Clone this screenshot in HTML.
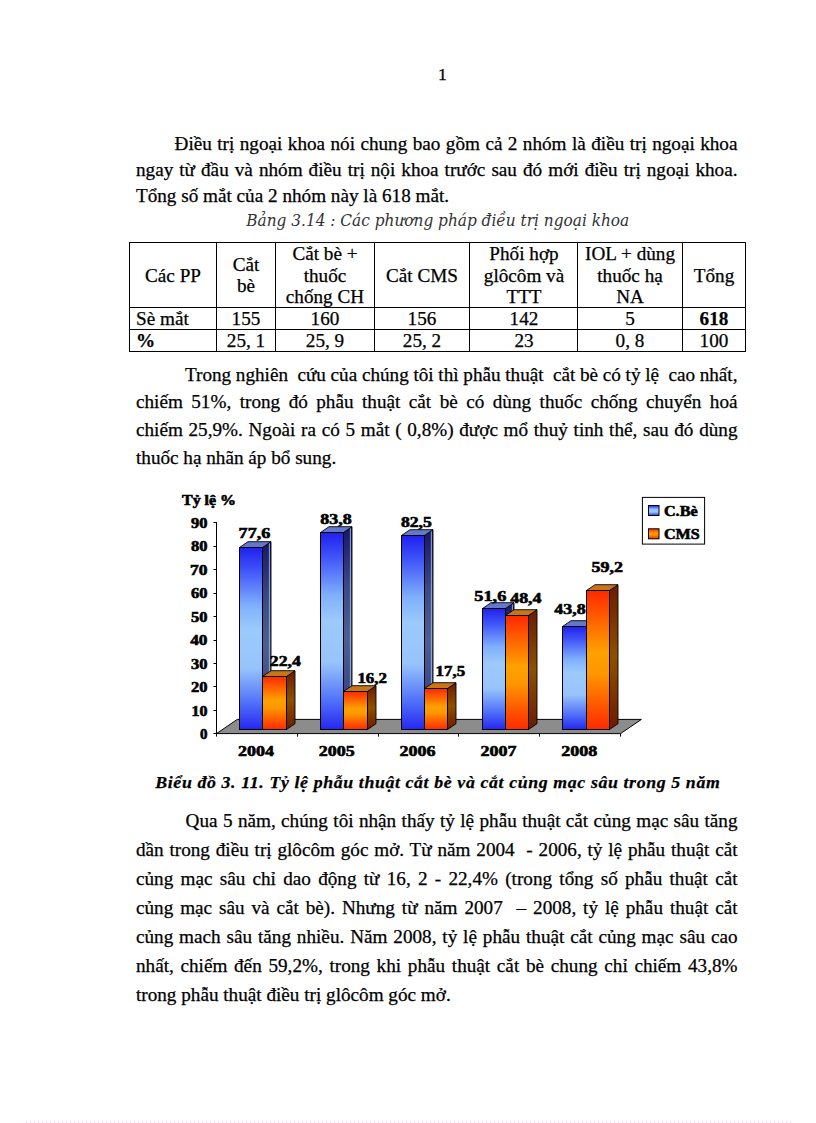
<!DOCTYPE html>
<html><head><meta charset="utf-8"><title>page</title>
<style>
html,body{margin:0;padding:0;background:#fff;}
body{width:816px;height:1123px;overflow:hidden;position:relative;}
.pg{position:absolute;left:0;top:0;width:794px;height:1123px;transform:scaleX(1.027708);transform-origin:0 0;}
.ln{position:absolute;white-space:nowrap;-webkit-text-stroke:0.25px #000;font-family:"Liberation Serif","Times New Roman",serif;font-size:18.6667px;line-height:20px;height:20px;color:#000;}
.ln.j{text-align:justify;text-align-last:justify;white-space:normal;word-spacing:-2px;}
.cap{font-family:"DejaVu Serif",serif;font-stretch:condensed;font-size:16.6px;font-style:italic;-webkit-text-stroke:0;color:#333;}
.bcap{font-style:italic;font-weight:bold;font-size:17.33px;letter-spacing:0.6px;}
.tb{position:absolute;left:0;top:0;width:816px;height:1123px;}
.vl{position:absolute;width:1px;background:#000;}
.hl{position:absolute;height:1px;background:#000;}
.tc,.tl{position:absolute;white-space:nowrap;-webkit-text-stroke:0.25px #000;font-family:"Liberation Serif","Times New Roman",serif;font-size:18.6667px;line-height:20px;height:20px;color:#000;transform:scaleX(1.027708);transform-origin:center top;}
.tc{width:120px;text-align:center;}
.tl{transform-origin:left top;}
svg{position:absolute;left:0;top:0;}
svg text{font-family:"Liberation Serif","Times New Roman",serif;font-weight:bold;fill:#000;stroke:#000;stroke-width:0.55px;}
</style></head><body>
<div class="pg">
<div class="ln " style="left:426.09px;top:64.70px;font-size:17.33px;">1</div>
<div class="ln j " style="left:169.89px;top:133.70px;width:547.72px;">Điều trị ngoại khoa nói chung bao gồm cả 2 nhóm là điều trị ngoại khoa</div>
<div class="ln j " style="left:132.30px;top:159.50px;width:585.32px;">ngay từ đầu và nhóm điều trị nội khoa trước sau đó mới điều trị ngoại khoa.</div>
<div class="ln " style="left:132.30px;top:185.50px;">Tổng số mắt của 2 nhóm này là 618 mắt.</div>
<div class="ln cap" style="left:239.66px;top:211.00px;">Bảng 3.14 : Các phương pháp điều trị ngoại khoa</div>
<div class="ln j " style="left:180.01px;top:364.50px;width:537.60px;">Trong nghiên&nbsp; cứu của chúng tôi thì phẫu thuật&nbsp; cắt bè có tỷ lệ&nbsp; cao nhất,</div>
<div class="ln j " style="left:132.30px;top:391.50px;width:585.32px;">chiếm 51%, trong đó phẫu thuật cắt bè có dùng thuốc chống chuyển hoá</div>
<div class="ln j " style="left:132.30px;top:420.00px;width:585.32px;">chiếm 25,9%. Ngoài ra có 5 mắt ( 0,8%) được mổ thuỷ tinh thể, sau đó dùng</div>
<div class="ln " style="left:132.30px;top:448.00px;">thuốc hạ nhãn áp bổ sung.</div>
<div class="ln bcap" style="left:151.11px;top:772.70px;">Biểu đồ 3. 11. Tỷ lệ phẫu thuật cắt bè và cắt củng mạc sâu trong 5 năm</div>
<div class="ln j " style="left:180.60px;top:811.00px;width:537.02px;">Qua 5 năm, chúng tôi nhận thấy tỷ lệ phẫu thuật cắt củng mạc sâu tăng</div>
<div class="ln j " style="left:132.30px;top:839.50px;width:585.32px;">dần trong điều trị glôcôm góc mở. Từ năm 2004&nbsp; - 2006, tỷ lệ phẫu thuật cắt</div>
<div class="ln j " style="left:132.30px;top:869.00px;width:585.32px;">củng mạc sâu chỉ dao động từ 16, 2 - 22,4% (trong tổng số phẫu thuật cắt</div>
<div class="ln j " style="left:132.30px;top:897.60px;width:585.32px;">củng mạc sâu và cắt bè). Nhưng từ năm 2007&nbsp; – 2008, tỷ lệ phẫu thuật cắt</div>
<div class="ln j " style="left:132.30px;top:926.50px;width:585.32px;">củng mach sâu tăng nhiều. Năm 2008, tỷ lệ phẫu thuật cắt củng mạc sâu cao</div>
<div class="ln j " style="left:132.30px;top:956.00px;width:585.32px;">nhất, chiếm đến 59,2%, trong khi phẫu thuật cắt bè chung chỉ chiếm 43,8%</div>
<div class="ln " style="left:132.30px;top:985.00px;">trong phẫu thuật điều trị glôcôm góc mở.</div>
</div>
<div class="tb">
<div class="vl" style="left:129px;top:242px;height:110px"></div>
<div class="vl" style="left:216px;top:242px;height:110px"></div>
<div class="vl" style="left:275px;top:242px;height:110px"></div>
<div class="vl" style="left:374px;top:242px;height:110px"></div>
<div class="vl" style="left:469px;top:242px;height:110px"></div>
<div class="vl" style="left:577px;top:242px;height:110px"></div>
<div class="vl" style="left:682px;top:242px;height:110px"></div>
<div class="vl" style="left:745px;top:242px;height:110px"></div>
<div class="hl" style="left:129px;top:242px;width:617px"></div>
<div class="hl" style="left:129px;top:307px;width:617px"></div>
<div class="hl" style="left:129px;top:329px;width:617px"></div>
<div class="hl" style="left:129px;top:351px;width:617px"></div>
<div class="tc" style="left:112.75px;top:266.00px;">Các PP</div>
<div class="tc" style="left:185.75px;top:255.00px;">Cắt</div>
<div class="tc" style="left:185.75px;top:276.00px;">bè</div>
<div class="tc" style="left:264.50px;top:243.50px;">Cắt bè +</div>
<div class="tc" style="left:264.50px;top:266.00px;">thuốc</div>
<div class="tc" style="left:264.50px;top:287.00px;">chống CH</div>
<div class="tc" style="left:361.80px;top:266.00px;">Cắt CMS</div>
<div class="tc" style="left:463.60px;top:243.50px;">Phối hợp</div>
<div class="tc" style="left:463.60px;top:266.00px;">glôcôm và</div>
<div class="tc" style="left:463.60px;top:287.00px;">TTT</div>
<div class="tc" style="left:570.05px;top:243.50px;">IOL + dùng</div>
<div class="tc" style="left:570.05px;top:266.00px;">thuốc hạ</div>
<div class="tc" style="left:570.05px;top:287.00px;">NA</div>
<div class="tc" style="left:653.75px;top:266.00px;">Tổng</div>
<div class="tl" style="left:136.00px;top:308.50px;">Sè mắt</div>
<div class="tc" style="left:185.75px;top:308.50px;">155</div>
<div class="tc" style="left:264.50px;top:308.50px;">160</div>
<div class="tc" style="left:361.80px;top:308.50px;">156</div>
<div class="tc" style="left:463.60px;top:308.50px;">142</div>
<div class="tc" style="left:570.05px;top:308.50px;">5</div>
<div class="tc" style="left:653.75px;top:308.50px;font-weight:bold;">618</div>
<div class="tl" style="left:136.00px;top:331.00px;font-weight:bold;">%</div>
<div class="tc" style="left:185.75px;top:331.00px;">25, 1</div>
<div class="tc" style="left:264.50px;top:331.00px;">25, 9</div>
<div class="tc" style="left:361.80px;top:331.00px;">25, 2</div>
<div class="tc" style="left:463.60px;top:331.00px;">23</div>
<div class="tc" style="left:570.05px;top:331.00px;">0, 8</div>
<div class="tc" style="left:653.75px;top:331.00px;">100</div>
</div>
<div style="position:absolute;left:26px;top:1122px;width:766px;height:1px;background:repeating-linear-gradient(90deg,#f4c4f4 0,#f4c4f4 1px,transparent 1px,transparent 4px);"></div>
<svg width="816" height="1123" viewBox="0 0 816 1123">
<polygon points="216.5,733.6 620.6,733.6 641.4,719.4 237.3,719.4" fill="#8c8c8c" stroke="#000" stroke-width="1"/>
<line x1="216.5" y1="735.1" x2="216.5" y2="522.2" stroke="#000" stroke-width="1"/>
<line x1="213.5" y1="733.5" x2="216.5" y2="733.5" stroke="#000" stroke-width="1"/>
<line x1="213.5" y1="710.5" x2="216.5" y2="710.5" stroke="#000" stroke-width="1"/>
<line x1="213.5" y1="686.5" x2="216.5" y2="686.5" stroke="#000" stroke-width="1"/>
<line x1="213.5" y1="663.5" x2="216.5" y2="663.5" stroke="#000" stroke-width="1"/>
<line x1="213.5" y1="640.5" x2="216.5" y2="640.5" stroke="#000" stroke-width="1"/>
<line x1="213.5" y1="616.5" x2="216.5" y2="616.5" stroke="#000" stroke-width="1"/>
<line x1="213.5" y1="593.5" x2="216.5" y2="593.5" stroke="#000" stroke-width="1"/>
<line x1="213.5" y1="569.5" x2="216.5" y2="569.5" stroke="#000" stroke-width="1"/>
<line x1="213.5" y1="546.5" x2="216.5" y2="546.5" stroke="#000" stroke-width="1"/>
<line x1="213.5" y1="522.5" x2="216.5" y2="522.5" stroke="#000" stroke-width="1"/>
<line x1="216.5" y1="733.6" x2="216.5" y2="736.6" stroke="#000" stroke-width="1"/>
<line x1="297.5" y1="733.6" x2="297.5" y2="736.6" stroke="#000" stroke-width="1"/>
<line x1="378.5" y1="733.6" x2="378.5" y2="736.6" stroke="#000" stroke-width="1"/>
<line x1="458.5" y1="733.6" x2="458.5" y2="736.6" stroke="#000" stroke-width="1"/>
<line x1="539.5" y1="733.6" x2="539.5" y2="736.6" stroke="#000" stroke-width="1"/>
<line x1="620.5" y1="733.6" x2="620.5" y2="736.6" stroke="#000" stroke-width="1"/>
<defs>
<linearGradient id="gb" x1="0" y1="0" x2="0" y2="1">
<stop offset="0" stop-color="#2020ee"/><stop offset="0.12" stop-color="#3e52f8"/><stop offset="0.32" stop-color="#80b0fc"/><stop offset="0.45" stop-color="#9ccafc"/><stop offset="0.66" stop-color="#98c4fc"/><stop offset="0.86" stop-color="#4e6ef8"/><stop offset="1" stop-color="#2626f0"/></linearGradient>
<linearGradient id="go" x1="0" y1="0" x2="0" y2="1">
<stop offset="0" stop-color="#ff2800"/><stop offset="0.25" stop-color="#ff6c00"/><stop offset="0.45" stop-color="#ffa200"/><stop offset="0.6" stop-color="#ff9600"/><stop offset="0.85" stop-color="#ff5000"/><stop offset="1" stop-color="#ff2a00"/></linearGradient>
<linearGradient id="gbs" x1="0" y1="0" x2="0" y2="1">
<stop offset="0" stop-color="#161668"/><stop offset="0.3" stop-color="#3a4a88"/><stop offset="0.55" stop-color="#4e5e94"/><stop offset="0.8" stop-color="#3a4888"/><stop offset="1" stop-color="#1a1a70"/></linearGradient>
<linearGradient id="gos" x1="0" y1="0" x2="0" y2="1">
<stop offset="0" stop-color="#6a1c00"/><stop offset="0.5" stop-color="#8c5000"/><stop offset="1" stop-color="#6c1a00"/></linearGradient>
</defs>
<polygon points="262.5,547.5 271.0,541.7 271.0,723.7 262.5,729.5" fill="url(#gbs)" stroke="#000" stroke-width="0.9" stroke-linejoin="round"/>
<line x1="269.4" y1="543.2" x2="269.4" y2="723.2" stroke="#a4b4d4" stroke-width="0.9"/>
<polygon points="239.5,547.5 248.0,541.7 271.0,541.7 262.5,547.5" fill="#6278cc" stroke="#000" stroke-width="0.9" stroke-linejoin="round"/>
<rect x="239.5" y="547.5" width="23.0" height="182.0" fill="url(#gb)" stroke="#000" stroke-width="1"/>
<polygon points="286.5,676.5 295.0,670.7 295.0,723.7 286.5,729.5" fill="url(#gos)" stroke="#000" stroke-width="0.9" stroke-linejoin="round"/>
<polygon points="262.5,676.5 271.0,670.7 295.0,670.7 286.5,676.5" fill="#c87418" stroke="#000" stroke-width="0.9" stroke-linejoin="round"/>
<rect x="262.5" y="676.5" width="24.0" height="53.0" fill="url(#go)" stroke="#000" stroke-width="1"/>
<polygon points="343.5,532.5 352.0,526.7 352.0,723.7 343.5,729.5" fill="url(#gbs)" stroke="#000" stroke-width="0.9" stroke-linejoin="round"/>
<line x1="350.4" y1="528.2" x2="350.4" y2="723.2" stroke="#a4b4d4" stroke-width="0.9"/>
<polygon points="320.5,532.5 329.0,526.7 352.0,526.7 343.5,532.5" fill="#6278cc" stroke="#000" stroke-width="0.9" stroke-linejoin="round"/>
<rect x="320.5" y="532.5" width="23.0" height="197.0" fill="url(#gb)" stroke="#000" stroke-width="1"/>
<polygon points="367.5,691.5 376.0,685.7 376.0,723.7 367.5,729.5" fill="url(#gos)" stroke="#000" stroke-width="0.9" stroke-linejoin="round"/>
<polygon points="343.5,691.5 352.0,685.7 376.0,685.7 367.5,691.5" fill="#c87418" stroke="#000" stroke-width="0.9" stroke-linejoin="round"/>
<rect x="343.5" y="691.5" width="24.0" height="38.0" fill="url(#go)" stroke="#000" stroke-width="1"/>
<polygon points="424.5,535.5 433.0,529.7 433.0,723.7 424.5,729.5" fill="url(#gbs)" stroke="#000" stroke-width="0.9" stroke-linejoin="round"/>
<line x1="431.4" y1="531.2" x2="431.4" y2="723.2" stroke="#a4b4d4" stroke-width="0.9"/>
<polygon points="401.5,535.5 410.0,529.7 433.0,529.7 424.5,535.5" fill="#6278cc" stroke="#000" stroke-width="0.9" stroke-linejoin="round"/>
<rect x="401.5" y="535.5" width="23.0" height="194.0" fill="url(#gb)" stroke="#000" stroke-width="1"/>
<polygon points="447.5,688.5 456.0,682.7 456.0,723.7 447.5,729.5" fill="url(#gos)" stroke="#000" stroke-width="0.9" stroke-linejoin="round"/>
<polygon points="424.5,688.5 433.0,682.7 456.0,682.7 447.5,688.5" fill="#c87418" stroke="#000" stroke-width="0.9" stroke-linejoin="round"/>
<rect x="424.5" y="688.5" width="23.0" height="41.0" fill="url(#go)" stroke="#000" stroke-width="1"/>
<polygon points="505.5,608.5 514.0,602.7 514.0,723.7 505.5,729.5" fill="url(#gbs)" stroke="#000" stroke-width="0.9" stroke-linejoin="round"/>
<line x1="512.4" y1="604.2" x2="512.4" y2="723.2" stroke="#a4b4d4" stroke-width="0.9"/>
<polygon points="482.5,608.5 491.0,602.7 514.0,602.7 505.5,608.5" fill="#6278cc" stroke="#000" stroke-width="0.9" stroke-linejoin="round"/>
<rect x="482.5" y="608.5" width="23.0" height="121.0" fill="url(#gb)" stroke="#000" stroke-width="1"/>
<polygon points="528.5,615.5 537.0,609.7 537.0,723.7 528.5,729.5" fill="url(#gos)" stroke="#000" stroke-width="0.9" stroke-linejoin="round"/>
<polygon points="505.5,615.5 514.0,609.7 537.0,609.7 528.5,615.5" fill="#c87418" stroke="#000" stroke-width="0.9" stroke-linejoin="round"/>
<rect x="505.5" y="615.5" width="23.0" height="114.0" fill="url(#go)" stroke="#000" stroke-width="1"/>
<polygon points="586.5,626.5 595.0,620.7 595.0,723.7 586.5,729.5" fill="url(#gbs)" stroke="#000" stroke-width="0.9" stroke-linejoin="round"/>
<line x1="593.4" y1="622.2" x2="593.4" y2="723.2" stroke="#a4b4d4" stroke-width="0.9"/>
<polygon points="562.5,626.5 571.0,620.7 595.0,620.7 586.5,626.5" fill="#6278cc" stroke="#000" stroke-width="0.9" stroke-linejoin="round"/>
<rect x="562.5" y="626.5" width="24.0" height="103.0" fill="url(#gb)" stroke="#000" stroke-width="1"/>
<polygon points="609.5,590.5 618.0,584.7 618.0,723.7 609.5,729.5" fill="url(#gos)" stroke="#000" stroke-width="0.9" stroke-linejoin="round"/>
<polygon points="586.5,590.5 595.0,584.7 618.0,584.7 609.5,590.5" fill="#c87418" stroke="#000" stroke-width="0.9" stroke-linejoin="round"/>
<rect x="586.5" y="590.5" width="23.0" height="139.0" fill="url(#go)" stroke="#000" stroke-width="1"/>
<text x="182.0" y="504.6" font-size="13.6" textLength="54.0" lengthAdjust="spacingAndGlyphs">Tỷ lệ %</text>
<text x="200.0" y="739.2" font-size="13.6" textLength="7.5" lengthAdjust="spacingAndGlyphs">0</text>
<text x="191.5" y="715.7" font-size="13.6" textLength="16.0" lengthAdjust="spacingAndGlyphs">10</text>
<text x="191.0" y="692.2" font-size="13.6" textLength="16.5" lengthAdjust="spacingAndGlyphs">20</text>
<text x="191.0" y="668.7" font-size="13.6" textLength="16.5" lengthAdjust="spacingAndGlyphs">30</text>
<text x="190.2" y="645.2" font-size="13.6" textLength="17.3" lengthAdjust="spacingAndGlyphs">40</text>
<text x="191.0" y="621.8" font-size="13.6" textLength="16.5" lengthAdjust="spacingAndGlyphs">50</text>
<text x="191.0" y="598.3" font-size="13.6" textLength="16.5" lengthAdjust="spacingAndGlyphs">60</text>
<text x="190.0" y="574.8" font-size="13.6" textLength="17.5" lengthAdjust="spacingAndGlyphs">70</text>
<text x="191.0" y="551.3" font-size="13.6" textLength="16.5" lengthAdjust="spacingAndGlyphs">80</text>
<text x="191.0" y="527.8" font-size="13.6" textLength="16.5" lengthAdjust="spacingAndGlyphs">90</text>
<text x="238.6" y="537.5" font-size="13.6" textLength="31.8" lengthAdjust="spacingAndGlyphs">77,6</text>
<text x="320.3" y="523.5" font-size="13.6" textLength="31.4" lengthAdjust="spacingAndGlyphs">83,8</text>
<text x="400.9" y="526.6" font-size="13.6" textLength="30.9" lengthAdjust="spacingAndGlyphs">82,5</text>
<text x="269.8" y="666.2" font-size="13.6" textLength="31.0" lengthAdjust="spacingAndGlyphs">22,4</text>
<text x="357.4" y="682.9" font-size="13.6" textLength="29.6" lengthAdjust="spacingAndGlyphs">16,2</text>
<text x="435.6" y="675.6" font-size="13.6" textLength="29.6" lengthAdjust="spacingAndGlyphs">17,5</text>
<text x="474.3" y="600.6" font-size="13.6" textLength="32.0" lengthAdjust="spacingAndGlyphs">51,6</text>
<text x="510.2" y="602.9" font-size="13.6" textLength="31.4" lengthAdjust="spacingAndGlyphs">48,4</text>
<text x="554.3" y="613.7" font-size="13.6" textLength="31.4" lengthAdjust="spacingAndGlyphs">43,8</text>
<text x="591.6" y="571.6" font-size="13.6" textLength="31.4" lengthAdjust="spacingAndGlyphs">59,2</text>
<text x="238.0" y="756.4" font-size="13.6" textLength="36.0" lengthAdjust="spacingAndGlyphs">2004</text>
<text x="318.8" y="756.4" font-size="13.6" textLength="36.0" lengthAdjust="spacingAndGlyphs">2005</text>
<text x="399.6" y="756.4" font-size="13.6" textLength="36.0" lengthAdjust="spacingAndGlyphs">2006</text>
<text x="480.5" y="756.4" font-size="13.6" textLength="36.0" lengthAdjust="spacingAndGlyphs">2007</text>
<text x="561.3" y="756.4" font-size="13.6" textLength="36.0" lengthAdjust="spacingAndGlyphs">2008</text>
<rect x="642.4" y="497.4" width="62.2" height="46.7" fill="#fff" stroke="#000" stroke-width="1"/>
<rect x="648.5" y="505.5" width="10.5" height="10" fill="url(#gb)" stroke="#000" stroke-width="1"/>
<rect x="648.5" y="528.8" width="10.5" height="10" fill="url(#go)" stroke="#000" stroke-width="1"/>
<text x="663.9" y="515.7" font-size="13.6" textLength="33.8" lengthAdjust="spacingAndGlyphs">C.Bè</text>
<text x="663.9" y="538.5" font-size="13.6" textLength="35.8" lengthAdjust="spacingAndGlyphs">CMS</text>
</svg>
</body></html>
